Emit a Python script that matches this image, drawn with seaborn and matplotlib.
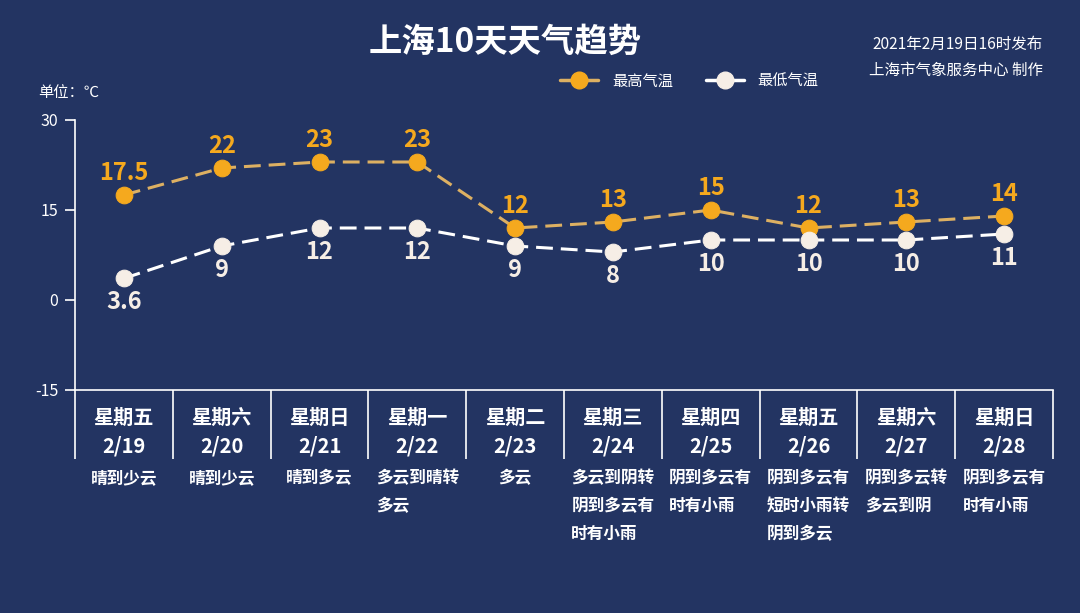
import matplotlib
matplotlib.use("Agg")
import matplotlib.pyplot as plt
from matplotlib.lines import Line2D
import seaborn as sns
import pandas as pd
import numpy as np

weekdays = ["星期五", "星期六", "星期日", "星期一", "星期二", "星期三", "星期四", "星期五", "星期六", "星期日"]
dates = ["2/19", "2/20", "2/21", "2/22", "2/23", "2/24", "2/25", "2/26", "2/27", "2/28"]
weather = ["晴到少云", "晴到少云", "晴到多云", "多云到晴转\n多云", "多云",
           "多云到阴转\n阴到多云有\n时有小雨", "阴到多云有\n时有小雨", "阴到多云有\n短时小雨转\n阴到多云",
           "阴到多云转\n多云到阴", "阴到多云有\n时有小雨"]
high = [17.5, 22, 23, 23, 12, 13, 15, 12, 13, 14]
low = [3.6, 9, 12, 12, 9, 8, 10, 10, 10, 11]
high_labels = ["17.5", "22", "23", "23", "12", "13", "15", "12", "13", "14"]
low_labels = ["3.6", "9", "12", "12", "9", "8", "10", "10", "10", "11"]
yticks = [-15, 0, 15, 30]

BG = "#233462"
ORANGE = "#F5A91E"
ORANGE_LINE = "#DDB062"
WHITE_MK = "#F6EEE6"

sns.set_theme(style="white")
plt.rcParams['font.family'] = ['Noto Sans CJK SC', 'DejaVu Sans']
plt.rcParams['axes.unicode_minus'] = False

df = pd.DataFrame({"pos": np.arange(len(dates)), "high": high, "low": low})

fig = plt.figure(figsize=(10.8, 6.13), dpi=100, facecolor=BG)
ax = fig.add_axes([75/1080, 1-390/613, (1053-75)/1080, 270/613])
ax.set_facecolor(BG)

sns.lineplot(data=df, x="pos", y="high", ax=ax, color=ORANGE_LINE, linewidth=2.2,
             linestyle=(0, (5.5, 2.6)), marker="o", markersize=12,
             markerfacecolor=ORANGE, markeredgecolor=ORANGE, zorder=3)
sns.lineplot(data=df, x="pos", y="low", ax=ax, color="white", linewidth=2.2,
             linestyle=(0, (5.5, 2.6)), marker="o", markersize=12,
             markerfacecolor=WHITE_MK, markeredgecolor=WHITE_MK, zorder=3)

for i, (h, l) in enumerate(zip(high, low)):
    ax.annotate(high_labels[i], (i, h), xytext=(0, 16), textcoords="offset points",
                ha="center", va="center", color=ORANGE, fontsize=17, fontweight="bold")
    ax.annotate(low_labels[i], (i, l), xytext=(0, -17), textcoords="offset points",
                ha="center", va="center", color=WHITE_MK, fontsize=17, fontweight="bold")

ax.set_xlim(-0.5, len(dates) - 0.5)
ax.set_ylim(-15, 30)
ax.set_yticks(yticks)
ax.set_yticklabels([str(v) for v in yticks], color="white", fontsize=11.5)
ax.set_xticks(range(len(dates)))
ax.set_xticklabels([f"{w}\n{d}" for w, d in zip(weekdays, dates)], color="white",
                   fontsize=14.5, fontweight="bold", linespacing=1.45)
ax.set_xticks(np.arange(-0.5, len(dates), 1.0), minor=True)
ax.tick_params(axis="x", which="major", bottom=True, length=0, pad=12)
ax.tick_params(axis="x", which="minor", bottom=True, length=50, width=1.2, color="white", direction="out")
ax.tick_params(axis="y", left=True, length=7, width=1.2, color="white", direction="out", pad=5)
ax.set_xlabel("")
ax.set_ylabel("")
for s in ["top", "right"]:
    ax.spines[s].set_visible(False)
for s in ["left", "bottom"]:
    ax.spines[s].set_color("white")
    ax.spines[s].set_linewidth(1.2)

for i, w in enumerate(weather):
    ax.annotate(w, xy=(i, 0), xycoords=("data", "axes fraction"), xytext=(0, -57),
                textcoords="offset points", ha="center", va="top", multialignment="left",
                color="white", fontsize=12, fontweight="bold", linespacing=1.72)

fig.text(505/1080, 1-42/613, "上海10天天气趋势", ha="center", va="center",
         color="white", fontsize=24, fontweight="bold")
fig.text(1043/1080, 1-44/613, "2021年2月19日16时发布", ha="right", va="center",
         color="white", fontsize=11.2)
fig.text(1043/1080, 1-70/613, "上海市气象服务中心 制作", ha="right", va="center",
         color="white", fontsize=11.2)
fig.text(38/1080, 1-93/613, "单位：℃", ha="left", va="center", color="white", fontsize=11)

handles = [Line2D([0], [0], color=ORANGE_LINE, lw=2.5, marker="o", markersize=12,
                  markerfacecolor=ORANGE, markeredgecolor=ORANGE),
           Line2D([0], [0], color="white", lw=2.5, marker="o", markersize=12,
                  markerfacecolor=WHITE_MK, markeredgecolor=WHITE_MK)]
leg = fig.legend(handles, ["最高气温", "最低气温"], loc="center left",
                 bbox_to_anchor=(560/1080, 1-81/613), ncol=2, frameon=False,
                 fontsize=11, labelcolor="white", handlelength=2.5,
                 columnspacing=2.15, handletextpad=0.9, borderaxespad=0, borderpad=0)

fig.savefig("out.png", dpi=100, facecolor=BG)
